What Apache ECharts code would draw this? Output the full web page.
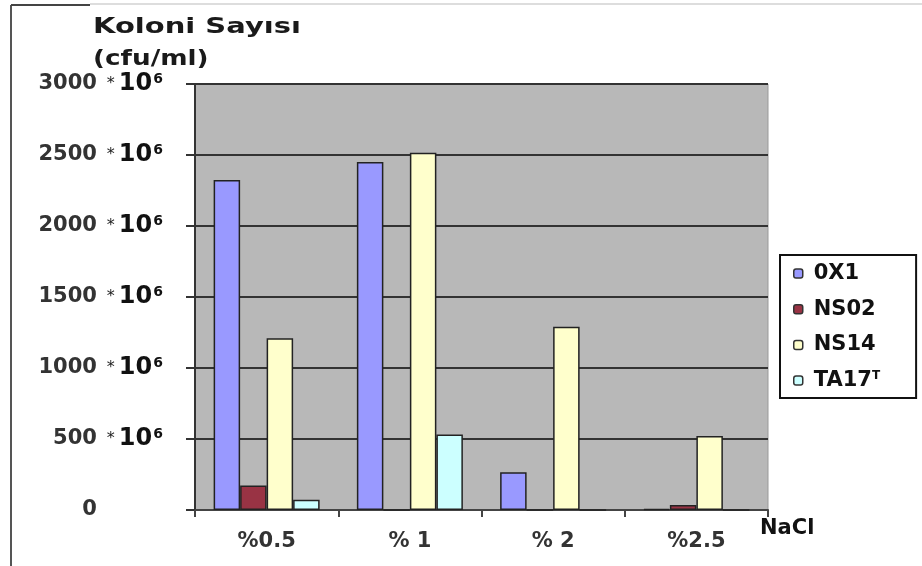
<!DOCTYPE html>
<html>
<head>
<meta charset="utf-8">
<script src="https://cdn.jsdelivr.net/npm/echarts@6/dist/echarts.min.js"></script>
<style>
html,body{margin:0;padding:0;background:#fff;}
#chart{width:922px;height:566px;}
</style>
</head>
<body>
<div id="chart"></div>
<script>
const categories = ['%0.5', '% 1', '% 2', '%2.5'];
const seriesNames = ['0X1', 'NS02', 'NS14', 'TA17'];
const ox1 = [2324, 2450, 265, 8];
const ns02 = [172, 0, 0, 35];
const ns14 = [1209, 2516, 1291, 522];
const ta17 = [72, 532, 0, 0];
const yTicks = [0, 500, 1000, 1500, 2000, 2500, 3000];
const colors = ['#9999FF', '#993344', '#FFFFCC', '#CCFFFF'];

const F = 'DejaVu Sans';
const chart = echarts.init(document.getElementById('chart'));
const values = [ox1, ns02, ns14, ta17];

const option = {
  animation: false,
  backgroundColor: '#ffffff',
  graphic: [
    { type: 'line', shape: { x1: 11, y1: 5, x2: 11, y2: 566 }, style: { stroke: '#555', lineWidth: 2 } },
    { type: 'line', shape: { x1: 11, y1: 5, x2: 90, y2: 5 }, style: { stroke: '#444', lineWidth: 2 } },
    { type: 'line', shape: { x1: 90, y1: 4, x2: 922, y2: 4 }, style: { stroke: '#bbb', lineWidth: 1 } },
    { type: 'text', left: 93, top: 17, scaleX: 1.38, style: { text: 'Koloni Sayısı', font: 'bold 21px "DejaVu Sans"', fill: '#1a1a1a' } },
    { type: 'text', left: 93, top: 49, scaleX: 1.25, style: { text: '(cfu/ml)', font: 'bold 21px "DejaVu Sans"', fill: '#1a1a1a' } }
  ],
  legend: {
    orient: 'vertical',
    left: 780,
    top: 255,
    backgroundColor: '#ffffff',
    borderColor: '#111',
    borderWidth: 2,
    borderRadius: 0,
    padding: [8, 36, 7, 13],
    itemWidth: 9,
    itemHeight: 9,
    itemGap: 14.7,
    itemStyle: { borderColor: '#333', borderWidth: 1.5 },
    data: seriesNames,
    formatter: function (name) { return name === 'TA17' ? 'TA17{sup|T}' : name; },
    textStyle: {
      fontFamily: F, fontWeight: 'bold', fontSize: 21, color: '#111', padding: [0, 0, 0, 6],
      rich: { sup: { fontFamily: F, fontWeight: 'bold', fontSize: 12, color: '#111', verticalAlign: 'top', lineHeight: 12 } }
    }
  },
  grid: {
    left: 195, right: 154, top: 84, bottom: 56,
    show: true, backgroundColor: '#B8B8B8', borderColor: '#9a9a9a', borderWidth: 1
  },
  xAxis: {
    type: 'category',
    data: categories,
    name: 'NaCl',
    nameLocation: 'end',
    nameGap: -8,
    nameTextStyle: { fontFamily: F, fontWeight: 'bold', fontSize: 21, color: '#111', verticalAlign: 'top', padding: [8, 0, 0, 0] },
    axisLine: { lineStyle: { color: '#444', width: 2 } },
    axisTick: { show: true, length: 7, lineStyle: { color: '#444', width: 2 } },
    axisLabel: { margin: 21, fontFamily: F, fontWeight: 'bold', fontSize: 21, color: '#333' }
  },
  yAxis: {
    type: 'value',
    min: yTicks[0],
    max: yTicks[yTicks.length - 1],
    interval: 500,
    axisLine: { show: true, lineStyle: { color: '#333', width: 2 } },
    axisTick: { show: true, length: 9, lineStyle: { color: '#333', width: 2 } },
    splitLine: { lineStyle: { color: '#333', width: 2 } },
    axisLabel: {
      margin: 32,
      align: 'right',
      formatter: function (v) {
        return v === 0 ? '{n|0}{ha|*}{ht|10}{hs|6}' : '{n|' + v + '}{a|*}{t|10}{s|6}';
      },
      rich: {
        n: { fontFamily: F, fontWeight: 'bold', fontSize: 21, color: '#333', lineHeight: 24 },
        a: { fontFamily: F, fontSize: 16, color: '#222', padding: [0, 4, 0, 10], lineHeight: 24 },
        t: { fontFamily: F, fontWeight: 'bold', fontSize: 24, color: '#111', lineHeight: 24 },
        s: { fontFamily: F, fontWeight: 'bold', fontSize: 14, color: '#111', verticalAlign: 'top', lineHeight: 12, padding: [0, 0, 0, 1] },
        ha: { fontFamily: F, fontSize: 16, color: 'transparent', padding: [0, 4, 0, 10], lineHeight: 24 },
        ht: { fontFamily: F, fontWeight: 'bold', fontSize: 24, color: 'transparent', lineHeight: 24 },
        hs: { fontFamily: F, fontWeight: 'bold', fontSize: 14, color: 'transparent', verticalAlign: 'top', lineHeight: 12, padding: [0, 0, 0, 1] }
      }
    }
  },
  series: seriesNames.map(function (name, i) {
    return {
      name: name,
      type: 'bar',
      data: values[i],
      barGap: '0%',
      barCategoryGap: '26%',
      itemStyle: { color: colors[i], borderColor: '#222', borderWidth: 1.5 }
    };
  })
};
chart.setOption(option);
</script>
</body>
</html>
